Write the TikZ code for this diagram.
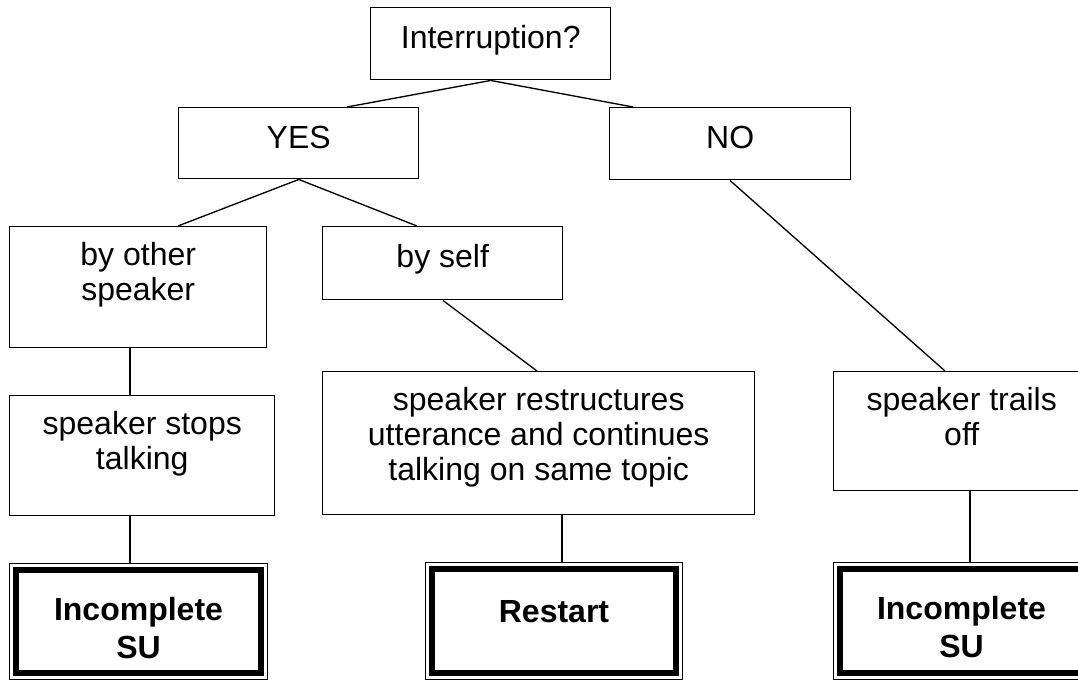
\documentclass[tikz,border=0pt]{standalone}
\usepackage{fontspec}
\setmainfont{Liberation Sans}
\usepackage{tikz}
\usetikzlibrary{positioning}

\tikzset{
    box/.style 2 args={draw, line width=1.1pt, inner sep=0pt, anchor=north west,
        minimum width=#1*0.75pt, minimum height=#2*0.75pt},
    endbox/.style 2 args={box={#1}{#2}, line width=0.75pt},
    txt/.style={anchor=north, align=center, inner sep=0pt, yshift=-12.4pt,
        font=\fontsize{24}{26.25}\selectfont, execute at begin node=\strut},
    endtxt/.style={txt, yshift=-13pt, font=\fontsize{24}{28.5}\selectfont\bfseries},
    endframe/.style={draw, line width=5pt},
    link/.style={draw, line width=1pt},
}

\begin{document}
\begin{tikzpicture}[x=0.75pt, y=-0.75pt]
    \useasboundingbox (0,0) rectangle (1078,681);
    \clip (0,0) rectangle (1078,681);

    \node[box={240}{72}, label={[txt]north:Interruption?}] (int) at (370,7) {};
    \node[box={240}{71}, label={[txt]north:YES}] (yes) at (178,107) {};
    \node[box={241}{72}, label={[txt]north:NO}] (no) at (609,107) {};

    \node[box={257}{121}, label={[txt]north:by other\\speaker}] (other) at (9,226) {};
    \node[box={240}{73}, label={[txt]north:by self}] (self) at (322,226) {};

    \node[box={265}{120}, label={[txt]north:speaker stops\\talking}] (stops) at (9,395) {};
    \node[box={432}{143}, label={[txt]north:speaker restructures\\utterance and continues\\talking on same topic}] (restr) at (322,371) {};
    \node[box={256}{119}, label={[txt]north:speaker trails\\off}] (trails) at (833,371) {};

    \node[endbox={258}{116}, label={[endtxt]north:Incomplete\\SU}] (inc1) at (9,563) {};
    \node[endbox={257}{117}, label={[endtxt]north:Restart}] (restart) at (425,562) {};
    \node[endbox={256}{117}, label={[endtxt]north:Incomplete\\SU}] (inc2) at (833,562) {};

    % thick inner frame of the outcome boxes
    \foreach \n in {inc1,restart,inc2}
        \draw[endframe] ([shift={(7,7)}]\n.north west) rectangle ([shift={(-7,-7)}]\n.south east);

    \draw[link] (int.south) -- ([shift={(169,0)}]yes.north west);
    \draw[link] (int.south) -- ([shift={(24,0)}]no.north west);
    \draw[link] (yes.south) -- ([shift={(169,0)}]other.north west);
    \draw[link] (yes.south) -- ([shift={(95,0)}]self.north west);
    \draw[link] ([shift={(121,0)}]other.south west) -- ([shift={(121,0)}]stops.north west);
    \draw[link] ([shift={(121,0)}]stops.south west) -- ([shift={(121,0)}]inc1.north west);
    \draw[link] ([shift={(121,0)}]self.south west) -- ([shift={(215,0)}]restr.north west);
    \draw[link] ([shift={(240,0)}]restr.south west) -- ([shift={(137,0)}]restart.north west);
    \draw[link] ([shift={(121,0)}]no.south west) -- ([shift={(112,0)}]trails.north west);
    \draw[link] ([shift={(137,0)}]trails.south west) -- ([shift={(137,0)}]inc2.north west);
\end{tikzpicture}
\end{document}
